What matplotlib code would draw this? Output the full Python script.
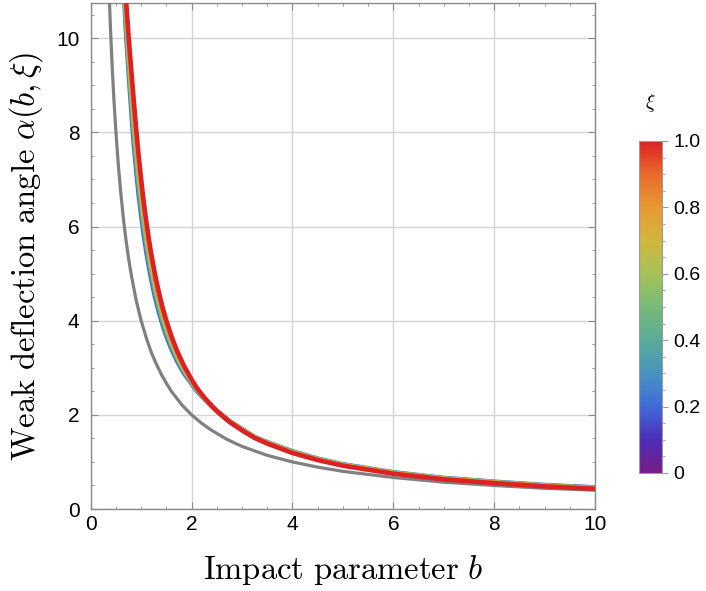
import numpy as np
import matplotlib
matplotlib.use("Agg")
import matplotlib.pyplot as plt
from matplotlib.colors import LinearSegmentedColormap
from matplotlib.ticker import MultipleLocator, FixedLocator
from matplotlib.cm import ScalarMappable
from matplotlib.colors import Normalize

plt.rcParams['mathtext.fontset'] = 'cm'
plt.rcParams['font.family'] = ['Liberation Sans', 'DejaVu Sans']

# impact parameter grid used when reading the curves off the picture
b = [0.64, 0.67, 0.70, 0.75, 0.80, 0.85, 0.90, 0.95, 1.0, 1.05, 1.1, 1.15, 1.2, 1.275,
     1.35, 1.425, 1.5, 1.6, 1.7, 1.75, 1.85, 2.0, 2.1, 2.25, 2.4, 2.5, 2.75, 3.0, 3.25,
     3.5, 4.0, 4.5, 5.0, 6.0, 7.0, 8.0, 9.0, 10.0]

# deflection angle for a few values of xi (estimated from the figure)
xi = [0.2, 0.4, 0.6, 0.8, 1.0]
alpha_02 = [11.32, 10.73, 10.12, 9.30, 8.53, 7.80, 7.21, 6.68, 6.24, 5.83, 5.48, 5.16, 4.88, 4.50,
            4.19, 3.91, 3.67, 3.40, 3.17, 3.07, 2.88, 2.66, 2.51, 2.34, 2.18, 2.09, 1.87, 1.70, 1.53,
            1.42, 1.225, 1.07, 0.95, 0.78, 0.66, 0.58, 0.51, 0.46]
alpha_04 = [11.46, 10.88, 10.30, 9.49, 8.74, 8.03, 7.43, 6.89, 6.43, 6.01, 5.64, 5.31, 5.02, 4.62,
            4.30, 4.00, 3.75, 3.47, 3.23, 3.12, 2.92, 2.68, 2.53, 2.35, 2.18, 2.09, 1.87, 1.69, 1.53,
            1.41, 1.22, 1.06, 0.94, 0.77, 0.65, 0.57, 0.50, 0.45]
alpha_06 = [11.60, 11.03, 10.47, 9.67, 8.96, 8.26, 7.65, 7.10, 6.62, 6.18, 5.80, 5.46, 5.15, 4.74,
            4.40, 4.10, 3.84, 3.54, 3.28, 3.17, 2.96, 2.71, 2.55, 2.36, 2.19, 2.08, 1.86, 1.69, 1.52,
            1.41, 1.21, 1.06, 0.94, 0.77, 0.65, 0.57, 0.50, 0.45]
alpha_08 = [11.73, 11.17, 10.65, 9.86, 9.17, 8.49, 7.87, 7.30, 6.81, 6.36, 5.96, 5.60, 5.29, 4.86,
            4.51, 4.19, 3.92, 3.60, 3.34, 3.22, 3.00, 2.73, 2.56, 2.36, 2.19, 2.08, 1.86, 1.68, 1.52,
            1.40, 1.20, 1.05, 0.93, 0.76, 0.64, 0.56, 0.49, 0.44]
alpha_10 = [11.87, 11.32, 10.82, 10.04, 9.38, 8.72, 8.09, 7.51, 7.00, 6.53, 6.12, 5.75, 5.42, 4.98,
            4.61, 4.28, 4.00, 3.67, 3.39, 3.27, 3.04, 2.75, 2.58, 2.37, 2.19, 2.08, 1.85, 1.67, 1.51,
            1.39, 1.19, 1.04, 0.92, 0.75, 0.63, 0.55, 0.48, 0.43]
alphas = [alpha_02, alpha_04, alpha_06, alpha_08, alpha_10]

# Schwarzschild reference curve (gray)
b_schw = [0.36, 0.38, 0.4, 0.43, 0.46, 0.5, 0.55, 0.6, 0.65, 0.7, 0.75, 0.8, 0.9, 1.0, 1.1,
          1.2, 1.3, 1.4, 1.5, 1.6, 1.8, 2.0, 2.2, 2.4, 2.7, 3.0, 3.5, 4.0, 4.5, 5.0, 6.0,
          7.0, 8.0, 9.0, 10.0]
alpha_schw = [11.11, 10.53, 10.0, 9.30, 8.70, 8.0, 7.27, 6.67, 6.15, 5.71, 5.33, 5.0, 4.44,
              4.0, 3.64, 3.33, 3.08, 2.86, 2.67, 2.5, 2.22, 2.0, 1.82, 1.67, 1.48, 1.33, 1.14,
              1.0, 0.89, 0.8, 0.67, 0.57, 0.5, 0.44, 0.4]

cbar_ticks = [0, 0.2, 0.4, 0.6, 0.8, 1.0]
cbar_labels = ['0', '0.2', '0.4', '0.6', '0.8', '1.0']

# Mathematica-like "Rainbow" scheme
rainbow = LinearSegmentedColormap.from_list('rainbow_mma', [
    (0.00, (0.47, 0.11, 0.53)),
    (0.10, (0.30, 0.18, 0.72)),
    (0.20, (0.25, 0.42, 0.85)),
    (0.30, (0.28, 0.58, 0.75)),
    (0.40, (0.35, 0.67, 0.60)),
    (0.50, (0.47, 0.73, 0.47)),
    (0.60, (0.65, 0.76, 0.35)),
    (0.70, (0.82, 0.72, 0.25)),
    (0.80, (0.90, 0.60, 0.20)),
    (0.90, (0.91, 0.42, 0.17)),
    (1.00, (0.86, 0.13, 0.14)),
])

fig = plt.figure(figsize=(7.06, 5.91), dpi=100)
ax = fig.add_axes([0.1285, 0.1387, 0.7145, 0.8563])

ax.plot(b_schw, alpha_schw, color='#808080', lw=2.3, zorder=3)
for x, a in zip(xi, alphas):
    ax.plot(b, a, color=rainbow(x), lw=3.3, zorder=4, solid_capstyle='butt')

ax.set_xlim(0, 10)
ax.set_ylim(0, 10.75)
ax.xaxis.set_major_locator(MultipleLocator(2))
ax.xaxis.set_minor_locator(MultipleLocator(0.5))
ax.yaxis.set_major_locator(MultipleLocator(2))
ax.yaxis.set_minor_locator(MultipleLocator(0.5))
ax.grid(True, which='major', color='#d4d4d4', lw=1.0)
ax.set_axisbelow(True)
ax.tick_params(which='both', direction='in', top=True, right=True, color='#8a8a8a',
               labelsize=15)
ax.tick_params(which='major', length=5, width=0.8)
ax.tick_params(which='minor', length=2.5, width=0.6)
ax.tick_params(axis='x', pad=4)
ax.tick_params(axis='y', pad=8)
for s in ax.spines.values():
    s.set_color('#8a8a8a')
    s.set_linewidth(1.0)

ax.set_xlabel(r'$\mathrm{Impact\ parameter}\ b$', fontsize=23.5, labelpad=14)
ax.set_ylabel(r'$\mathrm{Weak\ deflection\ angle}\ \alpha(b,\xi)$', fontsize=23.5, labelpad=8)

# colour bar
cax = fig.add_axes([0.905, 0.1997, 0.0326, 0.5618])
sm = ScalarMappable(norm=Normalize(0, 1), cmap=rainbow)
cb = fig.colorbar(sm, cax=cax)
cb.set_ticks(cbar_ticks)
cb.set_ticklabels(cbar_labels)
cax.yaxis.set_minor_locator(FixedLocator(np.arange(0, 1.0001, 0.05)))
cax.tick_params(which='both', direction='out', color='#9a9a9a', labelsize=14, pad=4)
cax.tick_params(which='major', length=4, width=0.8)
cax.tick_params(which='minor', length=2, width=0.6)
cb.outline.set_edgecolor('#9a9a9a')
cb.outline.set_linewidth(0.8)
fig.text(0.921, 0.825, r'$\xi$', fontsize=14, ha='center', va='center')

fig.savefig('out.png', dpi=100)
